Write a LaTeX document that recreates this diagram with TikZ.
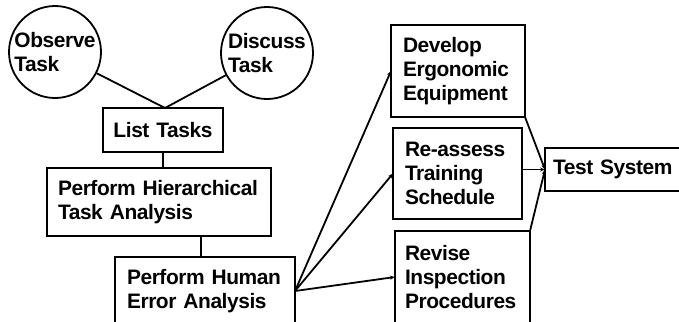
\documentclass[tikz,border=0pt]{standalone}
\usepackage{fontspec}
\setmainfont{Liberation Sans}[LetterSpace=-2]
\usetikzlibrary{arrows.meta}
\hyphenpenalty=10000
\exhyphenpenalty=10000

\tikzset{
  label font/.style={font=\fontsize{21}{24}\selectfont\bfseries},
  stroke/.style={line width=1.8bp},
  link/.style={stroke},
  flow/.style={stroke,-{Stealth[length=5bp,width=4bp]}},
  source/.style={label font,draw,stroke,circle,minimum size=92bp,inner sep=0pt,align=left},
  task/.style={label font,draw,stroke,rectangle,anchor=north west,outer sep=0pt,inner ysep=0pt,align=left}
}

\begin{document}
\begin{tikzpicture}[x=1bp,y=-1bp]
  \useasboundingbox (0,0) rectangle (679,321);
  \clip (0,0) rectangle (679,321);

  % information sources
  \node[source] (obs) at (55,52)  {Observe\\Task};
  \node[source] (dis) at (267,53) {Discuss\\Task};

  % analysis chain
  \node[task,minimum width=120bp,minimum height=44bp,text width=100bp,inner xsep=10bp,align=center]
    (lt) at (103,108) {List Tasks};
  \node[task,minimum width=224bp,minimum height=68bp,text width=202bp,inner xsep=11bp]
    (hta) at (47,168) {Perform Hierarchical\\Task Analysis};
  \node[task,minimum width=180bp,minimum height=68bp,text width=156bp,inner xsep=12bp]
    (hea) at (115,257) {Perform Human\\Error Analysis};

  % remedial measures
  \node[task,minimum width=134bp,minimum height=92bp,text width=110bp,inner xsep=12bp]
    (dev) at (391,25) {Develop\\Ergonomic\\Equipment};
  \node[task,minimum width=129bp,minimum height=91bp,text width=105bp,inner xsep=12bp]
    (rea) at (393,128) {Re-assess\\Training\\Schedule};
  \node[task,minimum width=135bp,minimum height=92bp,text width=115bp,inner xsep=10bp]
    (rev) at (395,231) {Revise\\Inspection\\Procedures};

  % final step
  \node[task,minimum width=150bp,minimum height=43bp,text width=134bp,inner xsep=8bp]
    (ts) at (545,148) {Test System};

  % connectors
  \coordinate (ltTop) at ([xshift=2bp]lt.north);
  \draw[link] (obs) -- (ltTop);
  \draw[link] (dis) -- (ltTop);
  \draw[link] (lt.south) -- (lt.south |- hta.north);
  \coordinate (heaTop) at ([xshift=-4bp]hea.north);
  \draw[link] (heaTop) -- (heaTop |- hta.south);

  \draw[flow] (hea.east) -- (dev.west);
  \draw[flow] (hea.east) -- (rea.west);
  \draw[flow] (hea.east) -- (rev.west);

  \draw[flow] (dev.south east) -- (ts.west);
  \draw[flow] (ts.west -| rea.east) -- (ts.west);
  \draw[flow] (rev.north east) -- (ts.west);
\end{tikzpicture}
\end{document}
